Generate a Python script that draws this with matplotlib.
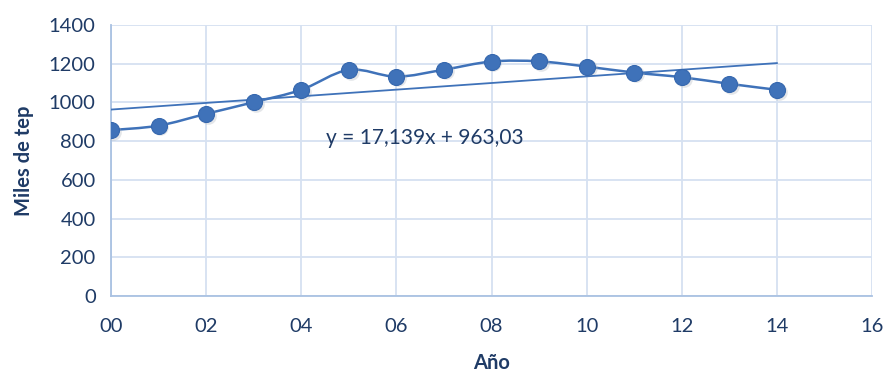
import numpy as np
import matplotlib.pyplot as plt
from matplotlib.path import Path
from matplotlib.patches import PathPatch

plt.rcParams['font.family'] = ['Lato', 'DejaVu Sans']

# datos
anio = [0, 1, 2, 3, 4, 5, 6, 7, 8, 9, 10, 11, 12, 13, 14]
consumo = [857, 880, 941, 1001, 1065, 1168, 1133, 1169, 1211, 1212, 1185, 1154, 1130, 1096, 1065]
pendiente = 17.139
ordenada = 963.03
xticks = [0, 2, 4, 6, 8, 10, 12, 14, 16]
xlabels = ['00', '02', '04', '06', '08', '10', '12', '14', '16']
yticks = [0, 200, 400, 600, 800, 1000, 1200, 1400]

azul = '#3F72B9'
texto = '#1F3B66'
rejilla = '#D6E1F1'

fig = plt.figure(figsize=(8.88, 3.72), dpi=100)
ax = fig.add_axes([0.125, 0.204, 0.857, 0.729])

# linea suavizada (bezier tipo catmull-rom, como en excel)
x = np.array(anio, dtype=float)
y = np.array(consumo, dtype=float)
verts = [(x[0], y[0])]
codes = [Path.MOVETO]
t = 1 / 6
for i in range(len(x) - 1):
    p0 = (x[max(i - 1, 0)], y[max(i - 1, 0)])
    p1 = (x[i], y[i])
    p2 = (x[i + 1], y[i + 1])
    p3 = (x[min(i + 2, len(x) - 1)], y[min(i + 2, len(x) - 1)])
    c1 = (p1[0] + (p2[0] - p0[0]) * t, p1[1] + (p2[1] - p0[1]) * t)
    c2 = (p2[0] - (p3[0] - p1[0]) * t, p2[1] - (p3[1] - p1[1]) * t)
    verts += [c1, c2, p2]
    codes += [Path.CURVE4] * 3
ax.add_patch(PathPatch(Path(verts, codes), fill=False, edgecolor=azul, lw=1.8, zorder=3))

# sombra suave de los marcadores
ax.plot(x + 0.04, y - 9, 'o', ms=12, color='#A8AFB8', alpha=0.3, mec='none', zorder=3)
ax.plot(x, y, 'o', ms=11.5, color=azul, mec='#3567AE', mew=0.8, zorder=4)

# linea de tendencia
xt = np.array([anio[0], anio[-1]])
ax.plot(xt, pendiente * xt + ordenada, color=azul, lw=1.3, zorder=3)
ax.text(4.52, 816, 'y = 17,139x + 963,03', fontsize=15, color=texto, va='center', ha='left')

ax.set_xlim(0, 16)
ax.set_ylim(0, 1400)
ax.set_xticks(xticks)
ax.set_xticklabels(xlabels)
ax.set_yticks(yticks)
ax.grid(True, color=rejilla, lw=1.3)
ax.set_axisbelow(True)
ax.tick_params(axis='both', length=0, labelsize=14.5, colors=texto)
ax.tick_params(axis='x', pad=16)
ax.tick_params(axis='y', pad=11)
for s in ['top', 'right']:
    ax.spines[s].set_visible(False)
for s in ['left', 'bottom']:
    ax.spines[s].set_color('#A9C1E2')
    ax.spines[s].set_linewidth(1.3)

ax.set_xlabel('Año', fontsize=14.5, fontweight='bold', color=texto, labelpad=13)
ax.set_ylabel('Miles de tep', fontsize=14.5, fontweight='bold', color=texto, labelpad=11)

fig.savefig('out.png', dpi=100)
